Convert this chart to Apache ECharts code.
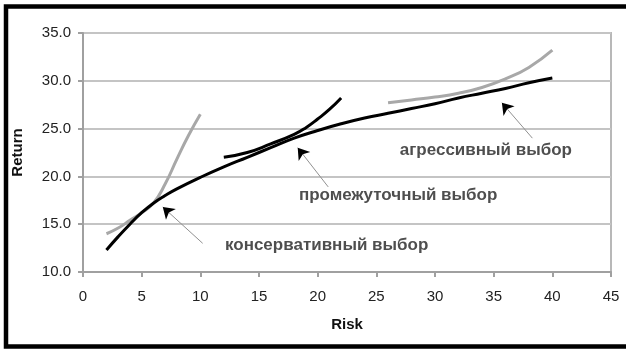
<!DOCTYPE html>
<html>
<head>
<meta charset="utf-8">
<script src="https://cdn.jsdelivr.net/npm/echarts@6/dist/echarts.min.js"></script>
<style>
html,body{margin:0;padding:0;background:#fff;}
#chart_1{width:626px;height:350px;}
</style>
</head>
<body>
<div id="chart_1"></div>
<script>
// efficient frontier (black) and the three portfolio curves
var frontier = [[2,12.3],[3,13.7],[4,15.0],[5,16.2],[6,17.2],[7,18.0],[8,18.7],[10,19.9],[12,21.0],[14,22.0],
    [16,23.0],[18,24.0],[20,24.8],[22,25.5],[24,26.1],[26,26.6],[28,27.1],[30,27.6],[32,28.2],[34,28.7],
    [36,29.2],[38,29.8],[40,30.3]];
var conservative = [[2,14.0],[3,14.6],[4,15.4],[5,16.2],[6,17.2],[7,19.2],[8,21.8],[9,24.3],[10,26.5]];
var intermediate = [[12,22.0],[14,22.5],[16,23.4],[18,24.4],[19,25.1],[20,26.0],[21,27.0],[22,28.2]];
var aggressive = [[26,27.7],[28,28.0],[30,28.3],[32,28.7],[34,29.3],[36,30.2],[38,31.4],[40,33.2]];

// annotation texts with arrow tail / head in data units
var noteNames = ['консервативный выбор', 'промежуточный выбор', 'агрессивный выбор'];
var notePos = [[12.1,12.8],[18.4,18.0],[27.0,22.7]];
var arrowFrom = [[10.2,13.0],[20.9,18.9],[38.3,24.0]];
var arrowTo = [[6.8,16.8],[18.3,23.0],[35.7,27.7]];

var xTicks = {min: 0, max: 45, step: 5};
var yTicks = {min: 10, max: 35, step: 5};

var arrows = [];
var notes = [];
for (var i = 0; i < noteNames.length; i++) {
    arrows.push({coords: [arrowFrom[i], arrowTo[i]]});
    notes.push({name: noteNames[i], value: notePos[i]});
}

var chart = echarts.init(document.getElementById('chart_1'));
var option = {
    animation: false,
    textStyle: {fontFamily: 'Liberation Sans, Arial, sans-serif'},
    graphic: [{
        type: 'rect',
        shape: {x: 6, y: 6.5, width: 680, height: 340},
        style: {fill: 'none', stroke: '#000', lineWidth: 4.5},
        silent: true
    }],
    grid: {
        left: 83, right: 15, top: 33, bottom: 78,
        show: true, borderColor: '#b8b8b8', borderWidth: 2
    },
    xAxis: {
        type: 'value',
        min: xTicks.min, max: xTicks.max, interval: xTicks.step,
        name: 'Risk', nameLocation: 'middle', nameGap: 45,
        nameTextStyle: {fontWeight: 'bold', fontSize: 15, color: '#111', verticalAlign: 'top'},
        axisLine: {lineStyle: {color: '#a0a0a0', width: 2}},
        axisTick: {show: true, length: 5, lineStyle: {color: '#a0a0a0', width: 2}},
        axisLabel: {color: '#222', fontSize: 15, margin: 17},
        splitLine: {show: false}
    },
    yAxis: {
        type: 'value',
        min: yTicks.min, max: yTicks.max, interval: yTicks.step,
        name: 'Return', nameLocation: 'middle', nameGap: 58,
        nameTextStyle: {fontWeight: 'bold', fontSize: 15, color: '#111'},
        axisLine: {show: true, lineStyle: {color: '#a0a0a0', width: 2}},
        axisTick: {show: true, length: 5, lineStyle: {color: '#a0a0a0', width: 2}},
        axisLabel: {color: '#222', fontSize: 15, margin: 12, formatter: function (v) { return v.toFixed(1); }},
        splitLine: {lineStyle: {color: '#c4c4c4', width: 2}}
    },
    series: [
        {type: 'line', data: conservative, smooth: true, showSymbol: false, lineStyle: {color: '#a8a8a8', width: 3}, z: 3},
        {type: 'line', data: aggressive, smooth: true, showSymbol: false, lineStyle: {color: '#a8a8a8', width: 3}, z: 3},
        {type: 'line', data: frontier, smooth: true, showSymbol: false, lineStyle: {color: '#000', width: 3}, z: 4},
        {type: 'line', data: intermediate, smooth: true, showSymbol: false, lineStyle: {color: '#000', width: 3}, z: 4},
        {
            type: 'lines', coordinateSystem: 'cartesian2d', data: arrows,
            symbol: ['none', 'none'],
            lineStyle: {color: '#909090', width: 1, opacity: 1}, z: 5
        },
        {
            type: 'lines', coordinateSystem: 'cartesian2d', data: arrows,
            symbol: ['none', 'arrow'], symbolSize: 11,
            lineStyle: {color: '#000', width: 0, opacity: 1}, z: 6
        },
        {
            type: 'scatter', data: notes, symbolSize: 0,
            label: {
                show: true, position: 'right', distance: 0, formatter: '{b}',
                fontSize: 17, fontWeight: 'bold', color: '#222'
            },
            z: 7
        }
    ]
};
chart.setOption(option);
</script>
</body>
</html>
